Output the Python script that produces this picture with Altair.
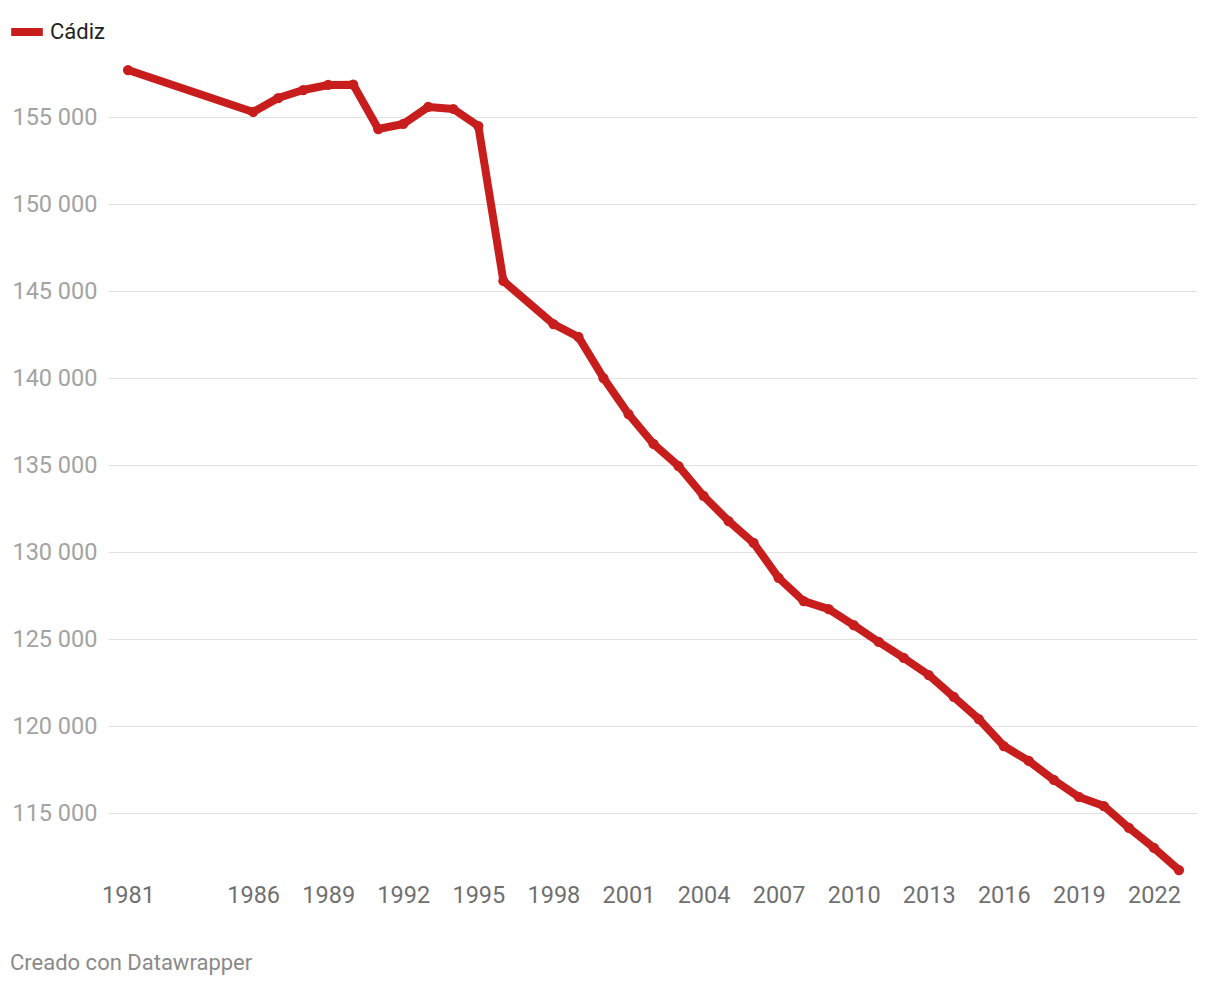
import altair as alt
import pandas as pd

years = [1981, 1986, 1987, 1988, 1989, 1990, 1991, 1992, 1993, 1994, 1995, 1996,
         1998, 1999, 2000, 2001, 2002, 2003, 2004, 2005, 2006, 2007, 2008, 2009,
         2010, 2011, 2012, 2013, 2014, 2015, 2016, 2017, 2018, 2019, 2020, 2021,
         2022, 2023]
population = [157700, 155290, 156090, 156550, 156840, 156860, 154310, 154600,
              155580, 155460, 154480, 145580, 143100, 142360, 140000, 137930,
              136210, 134940, 133220, 131780, 130520, 128510, 127180, 126720,
              125800, 124830, 123910, 122930, 121670, 120400, 118850, 117990,
              116900, 115920, 115400, 114140, 112990, 111720]
city = ["Cádiz"] * len(years)
x_ticks = [1981, 1986, 1989, 1992, 1995, 1998, 2001, 2004, 2007, 2010, 2013,
           2016, 2019, 2022]
y_ticks = [115000, 120000, 125000, 130000, 135000, 140000, 145000, 150000, 155000]

df = pd.DataFrame({"year": years, "pop": population, "city": city})

W = 1089
H = 815
RED = "#c71e1d"

base = alt.Chart(df)

line = base.mark_line(
    strokeWidth=8, strokeCap="round", strokeJoin="round",
    point=alt.OverlayMarkDef(filled=True, size=105, color=RED, opacity=1),
).encode(
    x=alt.X("year:Q", scale=alt.Scale(domain=[1980.2, 2023.72], nice=False, zero=False),
            axis=alt.Axis(values=x_ticks, format="d", title=None, grid=False,
                          domain=False, ticks=False, labelFontSize=23.5,
                          labelColor="#707070", labelFont="Roboto", labelPadding=8,
                          labelFlush=False)),
    y=alt.Y("pop:Q", scale=alt.Scale(domain=[111437, 158276], nice=False, zero=False),
            axis=alt.Axis(values=y_ticks, title=None, grid=True, gridColor="#e2e2e2",
                          gridWidth=1, domain=False, ticks=False, labelFontSize=23.5,
                          labelColor="#a3a3a3", labelFont="Roboto", labelPadding=11,
                          labelExpr="replace(format(datum.value, ','), ',', ' ')")),
    color=alt.Color("city:N", scale=alt.Scale(range=[RED]),
                    legend=alt.Legend(orient="none", legendX=-101, legendY=-48,
                                      padding=0, title=None, symbolType="stroke",
                                      symbolStrokeWidth=8, symbolSize=1000,
                                      labelFontSize=22, labelColor="#222222",
                                      labelFont="Roboto", labelOffset=3)),
)

credit = alt.Chart(pd.DataFrame({"t": ["Creado con Datawrapper"]})).mark_text(
    align="left", baseline="middle", fontSize=22, font="Roboto", color="#8a8a8a"
).encode(x=alt.value(-98), y=alt.value(H + 88), text="t:N")

chart = alt.layer(line, credit).properties(
    width=W, height=H,
    autosize=alt.AutoSizeParams(type="none"),
    padding={"left": 100, "top": 52, "right": 15, "bottom": 103},
).configure(font="Roboto").configure_view(strokeWidth=0, stroke="transparent")

chart.save("out.html", embed_options={"renderer": "svg", "actions": False})
